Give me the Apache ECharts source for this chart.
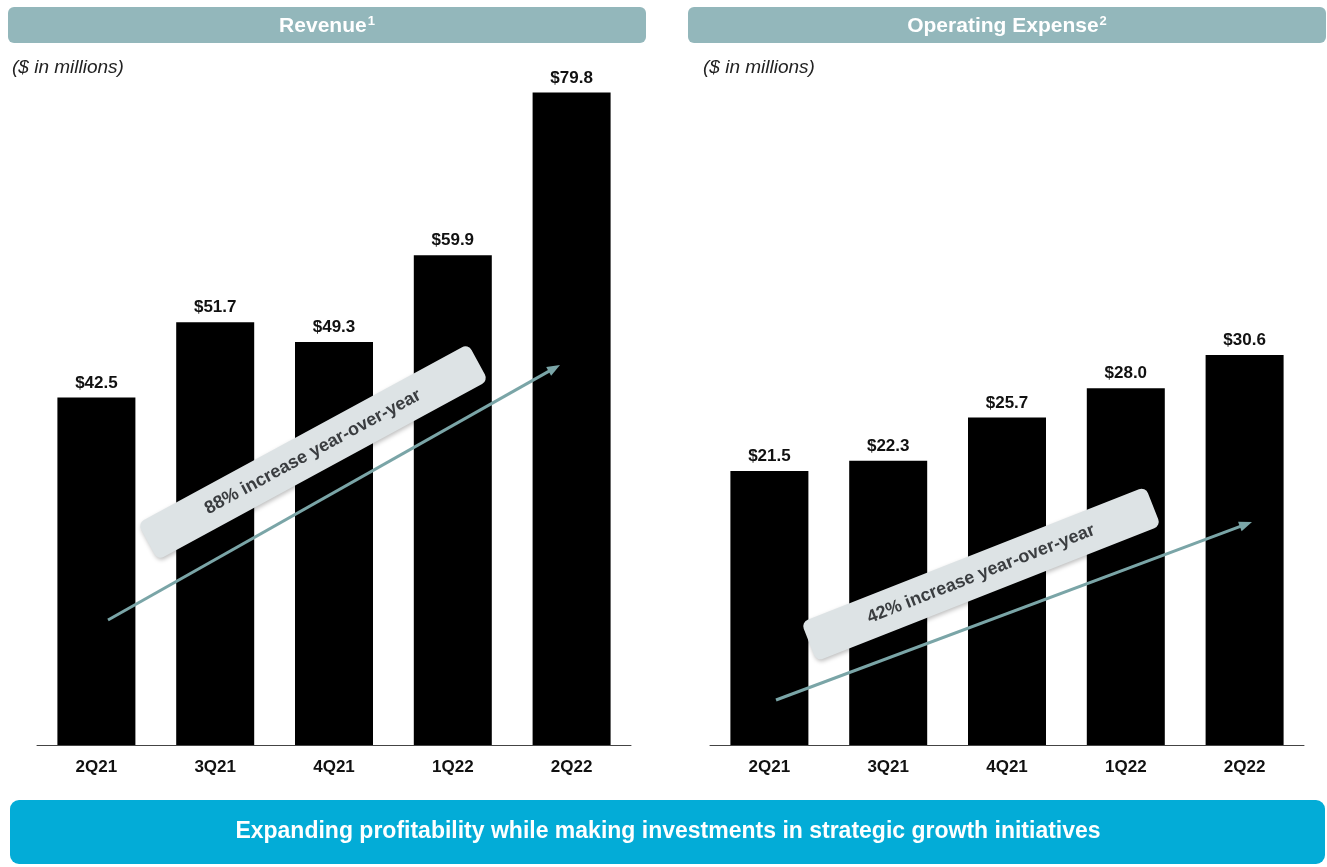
<!DOCTYPE html>
<html>
<head>
<meta charset="utf-8">
<script src="https://cdn.jsdelivr.net/npm/echarts@6/dist/echarts.min.js"></script>
<style>
html,body{margin:0;padding:0;background:#fff;}
#c{width:1327px;height:867px;}
</style>
</head>
<body>
<div id="c"></div>
<script>
const quarters = ['2Q21', '3Q21', '4Q21', '1Q22', '2Q22'];
const revenue = [42.5, 51.7, 49.3, 59.9, 79.8];
const opex = [21.5, 22.3, 25.7, 28.0, 30.6];
const leftTitle = 'Revenue';
const leftNoteNum = '1';
const rightTitle = 'Operating Expense';
const rightNoteNum = '2';
const unitNote = '($ in millions)';
const revNote = '88% increase year-over-year';
const opexNote = '42% increase year-over-year';
const banner = 'Expanding profitability while making investments in strategic growth initiatives';

const FONT = 'Arial, "Liberation Sans", sans-serif';
const chart = echarts.init(document.getElementById('c'), null, {renderer: 'canvas'});

function arrow(x1, y1, x2, y2, color) {
  const dx = x2 - x1, dy = y2 - y1, L = Math.hypot(dx, dy);
  const ux = dx / L, uy = dy / L, nx = -uy, ny = ux;
  const hl = 13, hw = 5;
  const bx = x2 - hl * ux, by = y2 - hl * uy;
  return [
    {type: 'line', z: 50, shape: {x1: x1, y1: y1, x2: bx + ux * 2, y2: by + uy * 2},
     style: {stroke: color, lineWidth: 3}},
    {type: 'polygon', z: 50, shape: {points: [[x2, y2], [bx + nx * hw, by + ny * hw], [bx - nx * hw, by - ny * hw]]},
     style: {fill: color}}
  ];
}
function noteBox(cx, cy, w, h, deg, text) {
  return {
    type: 'group', x: cx, y: cy, rotation: deg * Math.PI / 180, z: 60,
    children: [
      {type: 'rect', z: 60, shape: {x: -w / 2, y: -h / 2, width: w, height: h, r: 7},
       style: {fill: '#dde3e5', shadowBlur: 4, shadowColor: 'rgba(0,0,0,0.25)', shadowOffsetX: 1, shadowOffsetY: 2}},
      {type: 'text', z: 61, x: 0, y: 0,
       style: {text: text, fill: '#3a3d40', font: 'bold 18px ' + FONT, align: 'center', verticalAlign: 'middle'}}
    ]
  };
}
function titleText(x, y, main, sup) {
  return {type: 'text', x: x, y: y, z: 10,
    style: {text: '{m|' + main + '}{s|' + sup + '}', align: 'center', verticalAlign: 'middle',
      rich: {
        m: {fill: '#fff', fontFamily: FONT, fontWeight: 'bold', fontSize: 21, lineHeight: 24},
        s: {fill: '#fff', fontFamily: FONT, fontWeight: 'bold', fontSize: 13, lineHeight: 24, padding: [0, 0, 9, 1]}
      }}};
}
const ARROW_C = '#7aa5a7';

const graphics = [
  {type: 'rect', shape: {x: 8, y: 7, width: 638, height: 36, r: 6}, style: {fill: '#93b7bb'}},
  titleText(327, 26, leftTitle, leftNoteNum),
  {type: 'rect', shape: {x: 688, y: 7, width: 638, height: 36, r: 6}, style: {fill: '#93b7bb'}},
  titleText(1007, 26, rightTitle, rightNoteNum),
  {type: 'text', x: 12, y: 68, style: {text: unitNote, fill: '#222', font: 'italic 19px ' + FONT, align: 'left', verticalAlign: 'middle'}},
  {type: 'text', x: 703, y: 68, style: {text: unitNote, fill: '#222', font: 'italic 19px ' + FONT, align: 'left', verticalAlign: 'middle'}},
  {type: 'rect', shape: {x: 10, y: 800, width: 1315, height: 64, r: 9}, style: {fill: '#03acd7'}},
  {type: 'text', x: 668, y: 832, style: {text: banner, fill: '#fff', font: 'bold 23px ' + FONT, align: 'center', verticalAlign: 'middle'}},
  ...arrow(108, 620, 560, 365, ARROW_C),
  ...arrow(776, 700, 1252, 522, ARROW_C),
  noteBox(313, 452, 376, 42, 28.5, revNote),
  noteBox(981, 574, 370, 42, 21.5, opexNote)
];

const labelStyle = {show: true, position: 'top', distance: 6, color: '#111', fontFamily: FONT, fontWeight: 'bold', fontSize: 17,
  formatter: p => '$' + p.value.toFixed(1)};
const xAxisBase = {
  type: 'category', data: quarters,
  axisLine: {lineStyle: {color: '#444', width: 1}}, axisTick: {show: false},
  axisLabel: {color: '#111', fontFamily: FONT, fontWeight: 'bold', fontSize: 17, margin: 14}
};
const yAxisBase = {type: 'value', show: false, min: 0, splitLine: {show: false}};

chart.setOption({
  animation: false,
  backgroundColor: '#fff',
  grid: [
    {left: 37, width: 594, top: 50, height: 695},
    {left: 710, width: 594, top: 44, height: 701}
  ],
  xAxis: [Object.assign({gridIndex: 0}, xAxisBase), Object.assign({gridIndex: 1}, xAxisBase)],
  yAxis: [Object.assign({gridIndex: 0, max: 85}, yAxisBase), Object.assign({gridIndex: 1, max: 55}, yAxisBase)],
  series: [
    {type: 'bar', xAxisIndex: 0, yAxisIndex: 0, data: revenue, barWidth: 78, itemStyle: {color: '#000'}, label: labelStyle},
    {type: 'bar', xAxisIndex: 1, yAxisIndex: 1, data: opex, barWidth: 78, itemStyle: {color: '#000'}, label: labelStyle}
  ],
  graphic: graphics
});
</script>
</body>
</html>
